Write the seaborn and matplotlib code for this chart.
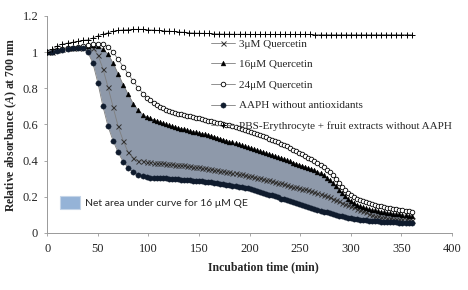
import matplotlib
matplotlib.use("Agg")
import matplotlib.pyplot as plt
from matplotlib.patches import Patch
import seaborn as sns

# sampling times (min) for the AAPH / quercetin runs
times_q = [
    0, 5, 10, 15, 20, 25, 30, 35, 40, 45,
    50, 55, 60, 65, 70, 75, 80, 85, 90, 95,
    99, 102, 105, 108, 111, 114, 117, 120, 123, 126,
    129, 132, 135, 138, 141, 144, 147, 150, 153, 156,
    159, 162, 165, 168, 171, 174, 177, 180, 183, 186,
    189, 192, 195, 198, 201, 204, 207, 210, 213, 216,
    219, 222, 225, 228, 231, 234, 237, 240, 243, 246,
    249, 252, 255, 258, 261, 264, 267, 270, 273, 276,
    279, 282, 285, 288, 291, 294, 297, 300, 303, 306,
    309, 312, 315, 318, 321, 324, 327, 330, 333, 336,
    339, 342, 345, 348, 351, 354, 357, 360,
]

aaph = [
    1.000, 1.000, 1.005, 1.010, 1.015, 1.020, 1.020, 1.020, 1.000, 0.940,
    0.830, 0.700, 0.590, 0.510, 0.445, 0.393, 0.360, 0.335, 0.320, 0.312,
    0.308, 0.306, 0.305, 0.304, 0.303, 0.302, 0.301, 0.300, 0.299, 0.297,
    0.296, 0.295, 0.293, 0.292, 0.290, 0.289, 0.287, 0.286, 0.285, 0.283,
    0.281, 0.279, 0.277, 0.275, 0.273, 0.270, 0.267, 0.265, 0.262, 0.259,
    0.256, 0.253, 0.250, 0.247, 0.243, 0.238, 0.233, 0.228, 0.222, 0.217,
    0.212, 0.207, 0.202, 0.196, 0.190, 0.185, 0.180, 0.175, 0.170, 0.164,
    0.159, 0.154, 0.149, 0.144, 0.139, 0.134, 0.128, 0.123, 0.118, 0.113,
    0.108, 0.103, 0.099, 0.095, 0.091, 0.087, 0.084, 0.081, 0.078, 0.076,
    0.073, 0.071, 0.069, 0.067, 0.066, 0.064, 0.063, 0.062, 0.061, 0.060,
    0.059, 0.058, 0.058, 0.057, 0.057, 0.056, 0.056, 0.055,
]

q3 = [
    1.000, 1.000, 1.010, 1.015, 1.020, 1.020, 1.025, 1.025, 1.030, 1.020,
    0.985, 0.908, 0.807, 0.697, 0.590, 0.510, 0.445, 0.415, 0.400, 0.395,
    0.391, 0.390, 0.388, 0.387, 0.385, 0.384, 0.382, 0.380, 0.379, 0.377,
    0.376, 0.374, 0.373, 0.371, 0.369, 0.367, 0.365, 0.363, 0.361, 0.358,
    0.356, 0.353, 0.350, 0.347, 0.344, 0.341, 0.338, 0.335, 0.332, 0.329,
    0.326, 0.323, 0.320, 0.317, 0.314, 0.310, 0.306, 0.303, 0.299, 0.295,
    0.291, 0.287, 0.283, 0.278, 0.274, 0.269, 0.265, 0.260, 0.256, 0.252,
    0.248, 0.244, 0.240, 0.236, 0.232, 0.226, 0.220, 0.214, 0.208, 0.202,
    0.196, 0.189, 0.182, 0.175, 0.168, 0.161, 0.154, 0.148, 0.141, 0.134,
    0.127, 0.120, 0.113, 0.106, 0.100, 0.096, 0.092, 0.089, 0.086, 0.083,
    0.081, 0.079, 0.077, 0.076, 0.075, 0.074, 0.073, 0.072,
]

q16 = [
    1.000, 1.000, 1.010, 1.015, 1.020, 1.025, 1.030, 1.030, 1.035, 1.040,
    1.035, 1.015, 0.990, 0.940, 0.880, 0.820, 0.767, 0.715, 0.678, 0.652,
    0.640, 0.633, 0.626, 0.620, 0.613, 0.607, 0.601, 0.595, 0.590, 0.586,
    0.581, 0.577, 0.572, 0.568, 0.564, 0.560, 0.556, 0.552, 0.549, 0.545,
    0.541, 0.536, 0.531, 0.526, 0.521, 0.515, 0.510, 0.505, 0.500, 0.495,
    0.490, 0.484, 0.479, 0.474, 0.469, 0.463, 0.458, 0.452, 0.447, 0.441,
    0.436, 0.431, 0.425, 0.419, 0.413, 0.407, 0.401, 0.395, 0.389, 0.383,
    0.377, 0.371, 0.365, 0.359, 0.353, 0.346, 0.338, 0.330, 0.318, 0.305,
    0.291, 0.275, 0.257, 0.239, 0.220, 0.203, 0.188, 0.175, 0.165, 0.156,
    0.148, 0.141, 0.135, 0.130, 0.127, 0.124, 0.120, 0.117, 0.114, 0.111,
    0.109, 0.106, 0.104, 0.102, 0.099, 0.097, 0.095, 0.094,
]

q24 = [
    1.000, 1.000, 1.010, 1.015, 1.020, 1.025, 1.030, 1.035, 1.040, 1.045,
    1.045, 1.045, 1.030, 1.000, 0.960, 0.920, 0.880, 0.840, 0.800, 0.770,
    0.745, 0.733, 0.720, 0.709, 0.699, 0.690, 0.682, 0.675, 0.670, 0.665,
    0.660, 0.656, 0.652, 0.648, 0.644, 0.640, 0.636, 0.633, 0.629, 0.625,
    0.621, 0.618, 0.614, 0.610, 0.606, 0.602, 0.598, 0.595, 0.590, 0.585,
    0.580, 0.575, 0.569, 0.563, 0.558, 0.552, 0.546, 0.540, 0.534, 0.528,
    0.522, 0.516, 0.508, 0.500, 0.493, 0.485, 0.478, 0.470, 0.461, 0.452,
    0.443, 0.434, 0.425, 0.416, 0.406, 0.396, 0.386, 0.375, 0.362, 0.348,
    0.335, 0.318, 0.298, 0.278, 0.256, 0.238, 0.223, 0.210, 0.200, 0.190,
    0.182, 0.175, 0.169, 0.164, 0.159, 0.155, 0.150, 0.146, 0.143, 0.140,
    0.137, 0.134, 0.131, 0.128, 0.125, 0.122, 0.120, 0.117,
]

# PBS control was read every 5 min
times_pbs = [
    0, 5, 10, 15, 20, 25, 30, 35, 40, 45,
    50, 55, 60, 65, 70, 75, 80, 85, 90, 95,
    100, 105, 110, 115, 120, 125, 130, 135, 140, 145,
    150, 155, 160, 165, 170, 175, 180, 185, 190, 195,
    200, 205, 210, 215, 220, 225, 230, 235, 240, 245,
    250, 255, 260, 265, 270, 275, 280, 285, 290, 295,
    300, 305, 310, 315, 320, 325, 330, 335, 340, 345,
    350, 355, 360,
]

pbs = [
    1.000, 1.015, 1.035, 1.045, 1.050, 1.055, 1.060, 1.065, 1.068, 1.078,
    1.090, 1.100, 1.107, 1.115, 1.120, 1.123, 1.125, 1.126, 1.126, 1.126,
    1.124, 1.122, 1.120, 1.118, 1.116, 1.114, 1.112, 1.110, 1.108, 1.106,
    1.105, 1.104, 1.103, 1.102, 1.101, 1.100, 1.100, 1.099, 1.099, 1.099,
    1.098, 1.098, 1.098, 1.098, 1.098, 1.098, 1.098, 1.098, 1.098, 1.098,
    1.098, 1.098, 1.098, 1.097, 1.097, 1.097, 1.097, 1.097, 1.097, 1.097,
    1.097, 1.097, 1.097, 1.097, 1.097, 1.097, 1.097, 1.097, 1.097, 1.097,
    1.097, 1.097, 1.097,
]

x_ticks = [0, 50, 100, 150, 200, 250, 300, 350, 400]
y_ticks = [0, 0.2, 0.4, 0.6, 0.8, 1.0, 1.2]
y_tick_labels = ["0", "0.2", "0.4", "0.6", "0.8", "1", "1.2"]

sns.set_theme(style="white")
plt.rcParams["font.family"] = ["Liberation Serif", "DejaVu Serif"]
plt.rcParams["mathtext.fontset"] = "custom"
plt.rcParams["mathtext.it"] = "Liberation Serif:italic:bold"
plt.rcParams["mathtext.rm"] = "Liberation Serif:bold"

fig = plt.figure(figsize=(4.68, 2.90), dpi=100)
ax = fig.add_axes([0.101, 0.197, 0.865, 0.748])

line_color = "#7f7f7f"
ax.fill_between(times_q, aaph, q16, color="#8e99aa", linewidth=0, zorder=1)

sns.lineplot(x=times_q, y=q3, ax=ax, color=line_color, linewidth=0.6,
             marker="x", markersize=3.6, markeredgecolor="#333333",
             markeredgewidth=0.7, label="3μM Quercetin", zorder=3)
sns.lineplot(x=times_q, y=q16, ax=ax, color=line_color, linewidth=0.6,
             marker="^", markersize=3.5, markerfacecolor="black",
             markeredgecolor="black", markeredgewidth=0.3,
             label="16μM Quercetin", zorder=3)
sns.lineplot(x=times_q, y=q24, ax=ax, color=line_color, linewidth=0.6,
             marker="o", markersize=3.3, markerfacecolor="white",
             markeredgecolor="black", markeredgewidth=0.6,
             label="24μM Quercetin", zorder=3)
sns.lineplot(x=times_q, y=aaph, ax=ax, color=line_color, linewidth=0.6,
             marker="o", markersize=3.8, markerfacecolor="#0f1b2d",
             markeredgecolor="#0f1b2d", markeredgewidth=0.3,
             label="AAPH without antioxidants", zorder=3)
sns.lineplot(x=times_pbs, y=pbs, ax=ax, color=line_color, linewidth=0.6,
             marker="+", markersize=4.6, markeredgecolor="black",
             markeredgewidth=0.7,
             label="PBS-Erythrocyte + fruit extracts without AAPH", zorder=3)

ax.set_xlim(0, 400)
ax.set_ylim(0, 1.2)
ax.set_xticks(x_ticks)
ax.set_yticks(y_ticks)
ax.set_yticklabels(y_tick_labels)
ax.tick_params(axis="both", labelsize=9, length=2.5, width=0.6,
               color="#999999", pad=4, direction="out", bottom=True, left=True)
ax.tick_params(axis="x", pad=5)
for side in ["top", "right"]:
    ax.spines[side].set_visible(False)
for side in ["left", "bottom"]:
    ax.spines[side].set_color("#999999")
    ax.spines[side].set_linewidth(0.7)

ax.set_xlabel("Incubation time (min)", fontsize=8.5, fontweight="bold")
ax.xaxis.set_label_coords(0.535, -0.13)
ax.set_ylabel("Relative absorbance ($\\it{A}$) at 700 nm", fontsize=8.5,
              fontweight="bold")
ax.yaxis.set_label_coords(-0.07, 0.5)

handles, labels = ax.get_legend_handles_labels()
leg = ax.legend(handles, labels, loc="upper left",
                bbox_to_anchor=(211 / 468, 1 - 39 / 290),
                bbox_transform=fig.transFigure, frameon=False, fontsize=8,
                handlelength=2.2, handletextpad=0.3, labelspacing=0.97,
                borderpad=0, borderaxespad=0)
ax.add_artist(leg)

area_leg = ax.legend([Patch(facecolor="#95b3d7", edgecolor="#c5d5e8",
                            linewidth=0.8)],
                     ["Net area under curve for 16 μM QE"],
                     loc="upper left", bbox_to_anchor=(60 / 468, 1 - 196 / 290),
                     bbox_transform=fig.transFigure, frameon=False,
                     prop={"family": ["Lato", "DejaVu Sans"], "size": 7.5},
                     handlelength=1.9, handleheight=1.5, handletextpad=0.5,
                     borderpad=0, borderaxespad=0)

fig.savefig("out.png", dpi=100, facecolor="white")
